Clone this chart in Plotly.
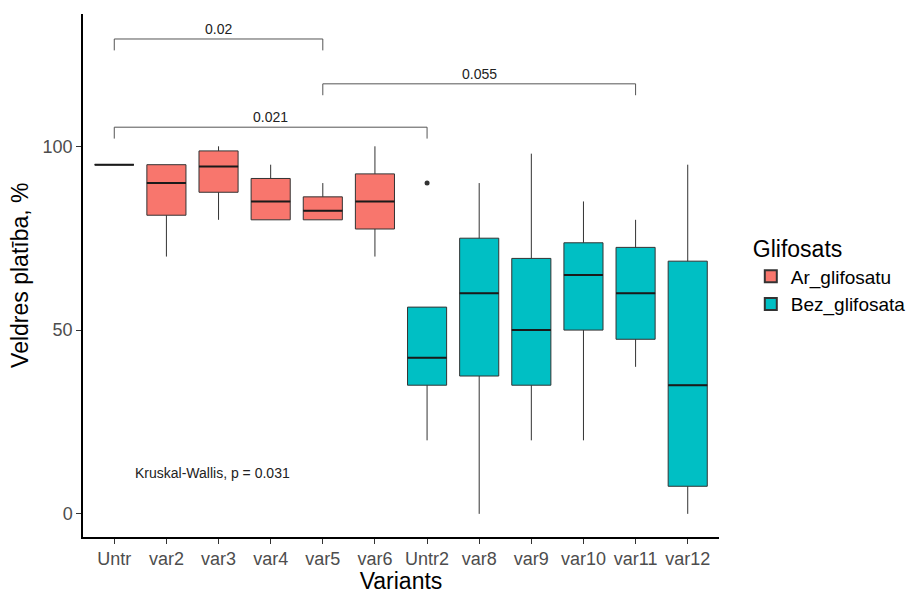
import plotly.graph_objects as go

# ---- data ----
categories = ["Untr", "var2", "var3", "var4", "var5", "var6",
              "Untr2", "var8", "var9", "var10", "var11", "var12"]
groups = ["Ar_glifosatu"] * 6 + ["Bez_glifosata"] * 6
lower_fence = [95, 70, 80, 80, 80, 70, 20, 0, 20, 20, 40, 0]
q1_vals = [95, 81.25, 87.5, 80, 80, 77.5, 35, 37.5, 35, 50, 47.5, 7.5]
medians = [95, 90, 94.5, 85, 82.5, 85, 42.5, 60, 50, 65, 60, 35]
q3_vals = [95, 95, 98.75, 91.25, 86.25, 92.5, 56.25, 75, 69.5, 73.75, 72.5, 68.75]
upper_fence = [95, 95, 100, 95, 90, 100, 56.25, 90, 98, 85, 80, 95]

outlier_cats = ["Untr2"]
outlier_vals = [90]

bracket_g1 = ["Untr", "var5", "Untr"]
bracket_g2 = ["var5", "var11", "Untr2"]
bracket_y = [129.2, 117.0, 105.2]
bracket_labels = ["0.02", "0.055", "0.021"]

kw_label = "Kruskal-Wallis, p = 0.031"
kw_x = 1.36
kw_y = 11.2

x_title = "Variants"
y_title = "Veldres platība, %"
legend_title = "Glifosats"

group_colors = {"Ar_glifosatu": "#F8766D", "Bez_glifosata": "#00BFC4"}
box_width = 0.75
font_family = "Liberation Sans, Arial, sans-serif"

pos = {c: i + 1 for i, c in enumerate(categories)}

fig = go.Figure()

for g in ["Ar_glifosatu", "Bez_glifosata"]:
    idx = [i for i, gg in enumerate(groups) if gg == g]
    fig.add_trace(go.Box(
        x=[pos[categories[i]] for i in idx],
        q1=[q1_vals[i] for i in idx],
        median=[medians[i] for i in idx],
        q3=[q3_vals[i] for i in idx],
        lowerfence=[lower_fence[i] for i in idx],
        upperfence=[upper_fence[i] for i in idx],
        name=g, legendgroup=g,
        fillcolor=group_colors[g],
        line=dict(color="#333333", width=1),
        width=box_width,
        whiskerwidth=0,
        hoverinfo="skip",
        boxpoints=False,
    ))

# thicker median lines (ggplot style)
mx, my = [], []
for c, m in zip(categories, medians):
    p = pos[c]
    mx += [p - box_width / 2, p + box_width / 2, None]
    my += [m, m, None]
fig.add_trace(go.Scatter(x=mx, y=my, mode="lines",
                         line=dict(color="#1a1a1a", width=2),
                         showlegend=False, hoverinfo="skip"))

# outliers
fig.add_trace(go.Scatter(x=[pos[c] for c in outlier_cats], y=outlier_vals,
                         mode="markers", marker=dict(color="#333333", size=5),
                         showlegend=False, hoverinfo="skip"))

# brackets
tip = 3.1
for g1, g2, yv, lab in zip(bracket_g1, bracket_g2, bracket_y, bracket_labels):
    x1, x2 = pos[g1], pos[g2]
    fig.add_trace(go.Scatter(x=[x1, x1, x2, x2], y=[yv - tip, yv, yv, yv - tip],
                             mode="lines", line=dict(color="#555555", width=1),
                             showlegend=False, hoverinfo="skip"))
    fig.add_annotation(x=(x1 + x2) / 2, y=yv, text=lab, showarrow=False,
                       yanchor="bottom", xanchor="center",
                       font=dict(size=14, color="#222222", family=font_family))

fig.add_annotation(x=kw_x, y=kw_y, text=kw_label, showarrow=False,
                   xanchor="left", yanchor="middle",
                   font=dict(size=14, color="#222222", family=font_family))

# y-axis title as rotated annotation (for exact placement)
fig.add_annotation(x=-0.1, y=0.5, xref="paper", yref="paper", text=y_title,
                   textangle=-90, showarrow=False, xanchor="center", yanchor="middle",
                   font=dict(size=23, color="black", family=font_family))

fig.update_layout(
    width=907, height=594,
    margin=dict(l=83, r=188, t=14, b=57, autoexpand=False),
    paper_bgcolor="white", plot_bgcolor="white",
    boxmode="overlay",
    font=dict(family=font_family),
    legend=dict(
        title=dict(text=legend_title, font=dict(size=23, color="black")),
        font=dict(size=19, color="black"),
        x=1.05, xanchor="left", y=0.5, yanchor="middle",
        tracegroupgap=0, itemsizing="constant",
    ),
    showlegend=True,
)

fig.update_xaxes(
    range=[0.4, 12.6], automargin=False,
    tickmode="array", tickvals=[pos[c] for c in categories], ticktext=categories,
    showline=True, linecolor="black", linewidth=1.5,
    ticks="outside", ticklen=5, tickcolor="#333333", tickwidth=1,
    tickfont=dict(size=18, color="#4d4d4d"),
    showgrid=False, zeroline=False,
    title=dict(text=x_title, font=dict(size=23, color="black")),
)
fig.update_yaxes(
    range=[-6.3, 136], automargin=False,
    tickmode="array", tickvals=[0, 50, 100],
    showline=True, linecolor="black", linewidth=1.5,
    ticks="outside", ticklen=5, tickcolor="#333333", tickwidth=1,
    tickfont=dict(size=18, color="#4d4d4d"),
    showgrid=False, zeroline=False,
)

fig.write_html("out.html")
